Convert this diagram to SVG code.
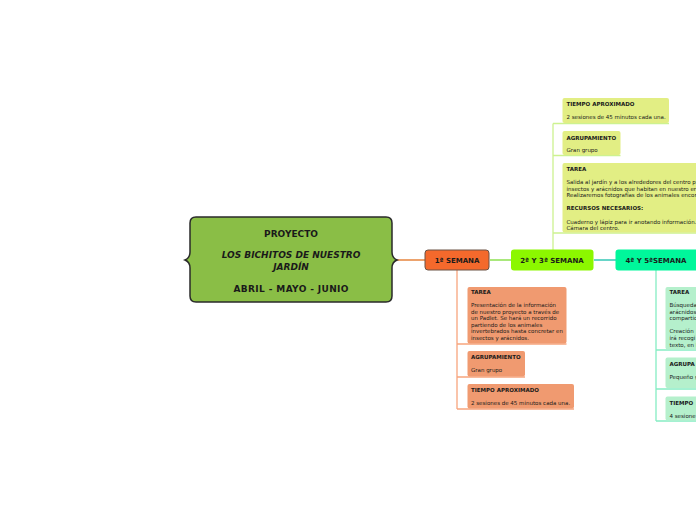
<svg xmlns="http://www.w3.org/2000/svg" width="696" height="520" viewBox="0 0 696 520">
<style>
text{font-family:"DejaVu Sans","Liberation Sans",sans-serif;fill:#1a1a1a}
.root{font-size:9px;font-weight:bold;text-anchor:middle}
.it{font-style:italic}
.nl{font-size:7px;font-weight:bold;text-anchor:middle}
.ct{font-size:5.5px;font-weight:bold}
.cb{font-size:5.5px}
.or{fill:#F09A70}
.ye{fill:#E2EE84}
.mi{fill:#B5F0CC}
.lo{stroke:#F8A57E;stroke-width:1.3;fill:none}
.ly{stroke:#CDF290;stroke-width:1.3;fill:none}
.lm{stroke:#86EDC4;stroke-width:1.3;fill:none}
</style>
<rect width="696" height="520" fill="#FFFFFF"/>
<g id="connectors">
<line x1="397" y1="260" x2="425" y2="260" stroke="#E2711F" stroke-width="1.3"/>
<line x1="490" y1="260" x2="511" y2="260" stroke="#8DE050" stroke-width="1.5"/>
<line x1="594" y1="260" x2="616" y2="260" stroke="#35C7B6" stroke-width="1.5"/>
<path class="lo" d="M457,270 V409 M457,344 H566.5 M457,377 H525 M457,409 H574"/>
<path class="ly" d="M553,250 V123.5 M553,123.5 H669 M553,155.5 H620.5 M553,233 H696"/>
<path class="lm" d="M656,270 V421 M656,350 H696 M656,389 H696 M656,421 H696"/>
</g>
<g id="root">
<path d="M196,217 H386 Q392,217 392,223 V252 Q392,258 397,260 Q392,262 392,268 V296 Q392,302 386,302 H196 Q190,302 190,296 V268 Q190,262 185,260 Q190,258 190,252 V223 Q190,217 196,217 Z" fill="#8ABE46" stroke="#2a2a2a" stroke-width="1.5"/>
<text class="root" x="291" y="236.5">PROYECTO</text>
<text class="root it" x="291" y="257.5">LOS BICHITOS DE NUESTRO</text>
<text class="root it" x="291" y="269.5">JARDÍN</text>
<text class="root" x="291" y="291.5" textLength="115" lengthAdjust="spacing">ABRIL - MAYO - JUNIO</text>
</g>
<g id="semana1">
<rect x="425" y="250" width="64" height="20" rx="3" fill="#F4692C" stroke="#6A5245" stroke-width="1"/>
<text class="nl" x="457" y="262.5">1ª SEMANA</text>
</g>
<g id="semana23">
<rect x="511" y="249.5" width="82.5" height="21" rx="3" fill="#8CF700"/>
<text class="nl" x="552" y="262.5">2ª Y 3ª SEMANA</text>
</g>
<g id="semana45">
<rect x="615.5" y="249.5" width="84" height="21" rx="3" fill="#00F79B"/>
<text class="nl" x="656" y="262.5">4ª Y 5ªSEMANA</text>
</g>
<g id="s1-tarea">
<rect class="or" x="467.5" y="287" width="99" height="56.5" rx="2"/>
<text class="ct" x="471" y="294">TAREA</text>
<text class="cb" x="471" y="307">Presentación de la información</text>
<text class="cb" x="471" y="313.6">de nuestro proyecto a través de</text>
<text class="cb" x="471" y="320.2">un Padlet. Se hará un recorrido</text>
<text class="cb" x="471" y="326.8">partiendo de los animales</text>
<text class="cb" x="471" y="333.4">invertebrados hasta concretar en</text>
<text class="cb" x="471" y="340">insectos y arácnidos.</text>
</g>
<g id="s1-agrupamiento">
<rect class="or" x="467.5" y="351" width="57.5" height="25.5" rx="2"/>
<text class="ct" x="471" y="359">AGRUPAMIENTO</text>
<text class="cb" x="471" y="372">Gran grupo</text>
</g>
<g id="s1-tiempo">
<rect class="or" x="467.5" y="384" width="106.5" height="24.5" rx="2"/>
<text class="ct" x="471" y="392">TIEMPO APROXIMADO</text>
<text class="cb" x="471" y="405">2 sesiones de 45 minutos cada una.</text>
</g>
<g id="s23-tiempo">
<rect class="ye" x="562.5" y="98" width="106.5" height="25" rx="2"/>
<text class="ct" x="566.5" y="106">TIEMPO APROXIMADO</text>
<text class="cb" x="566.5" y="119">2 sesiones de 45 minutos cada una.</text>
</g>
<g id="s23-agrupamiento">
<rect class="ye" x="562.5" y="131" width="58" height="24" rx="2"/>
<text class="ct" x="566.5" y="139.5">AGRUPAMIENTO</text>
<text class="cb" x="566.5" y="152">Gran grupo</text>
</g>
<g id="s23-tarea">
<rect class="ye" x="562.5" y="163" width="140" height="69.5" rx="2"/>
<text class="ct" x="566.5" y="171">TAREA</text>
<text class="cb" x="566.5" y="184">Salida al jardín y a los alrededores del centro p</text>
<text class="cb" x="566.5" y="190.6">insectos y arácnidos que habitan en nuestro er</text>
<text class="cb" x="566.5" y="197.2">Realizaremos fotografías de los animales encor</text>
<text class="ct" x="566.5" y="210.4">RECURSOS NECESARIOS:</text>
<text class="cb" x="566.5" y="223.6">Cuaderno y lápiz para ir anotando información.</text>
<text class="cb" x="566.5" y="230.2">Cámara del centro.</text>
</g>
<g id="s45-tarea">
<rect class="mi" x="665.5" y="287" width="40" height="62.5" rx="2"/>
<text class="ct" x="669.5" y="294">TAREA</text>
<text class="cb" x="669.5" y="307">Búsqueda</text>
<text class="cb" x="669.5" y="313.6">arácnidos</text>
<text class="cb" x="669.5" y="320.2">compartic</text>
<text class="cb" x="669.5" y="333.4">Creación</text>
<text class="cb" x="669.5" y="340">irá recogi</text>
<text class="cb" x="669.5" y="346.6">texto, en l</text>
</g>
<g id="s45-agrupamiento">
<rect class="mi" x="665.5" y="357.5" width="40" height="30.5" rx="2"/>
<text class="ct" x="669.5" y="365.5">AGRUPA</text>
<text class="cb" x="669.5" y="378.5">Pequeño g</text>
</g>
<g id="s45-tiempo">
<rect class="mi" x="665.5" y="396.5" width="40" height="24" rx="2"/>
<text class="ct" x="669.5" y="405">TIEMPO</text>
<text class="cb" x="669.5" y="418">4 sesione</text>
</g>
</svg>
